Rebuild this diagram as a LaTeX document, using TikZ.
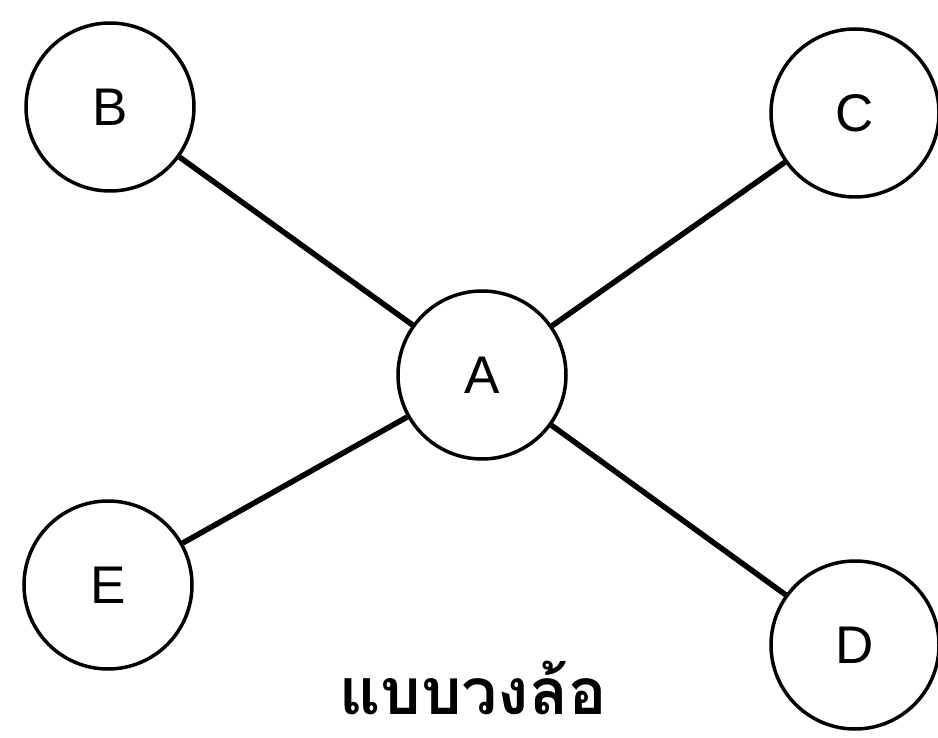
\documentclass[tikz,border=0pt]{standalone}
\usepackage{fontspec}
\setmainfont{Liberation Sans}
\newfontfamily\thaifont[Script=Thai]{Loma}
\begin{document}
\begin{tikzpicture}[x=1pt,y=-1pt,
  vertex/.style={circle,draw=black,line width=3.5pt,minimum size=168pt,inner sep=0pt,fill=white,font=\fontsize{53}{53}\selectfont},
  link/.style={line width=5.5pt}]
\useasboundingbox (0,0) rectangle (938,738);
\fill[white] (0,0) rectangle (938,738);
\node[vertex] (A) at (482,375) {A};
\node[vertex] (B) at (110,107) {B};
\node[vertex] (C) at (855,113) {C};
\node[vertex] (E) at (108,585) {E};
\node[vertex] (D) at (855,645) {D};
\draw[link] (B) -- (A);
\draw[link] (C) -- (A);
\draw[link] (E) -- (A);
\draw[link] (D) -- (A);
\node[font=\thaifont\fontsize{64}{64}\selectfont\bfseries,anchor=base,inner sep=0pt,text depth=0pt] (T) at (473,714) {แบบวงล้อ};
\end{tikzpicture}
\end{document}
